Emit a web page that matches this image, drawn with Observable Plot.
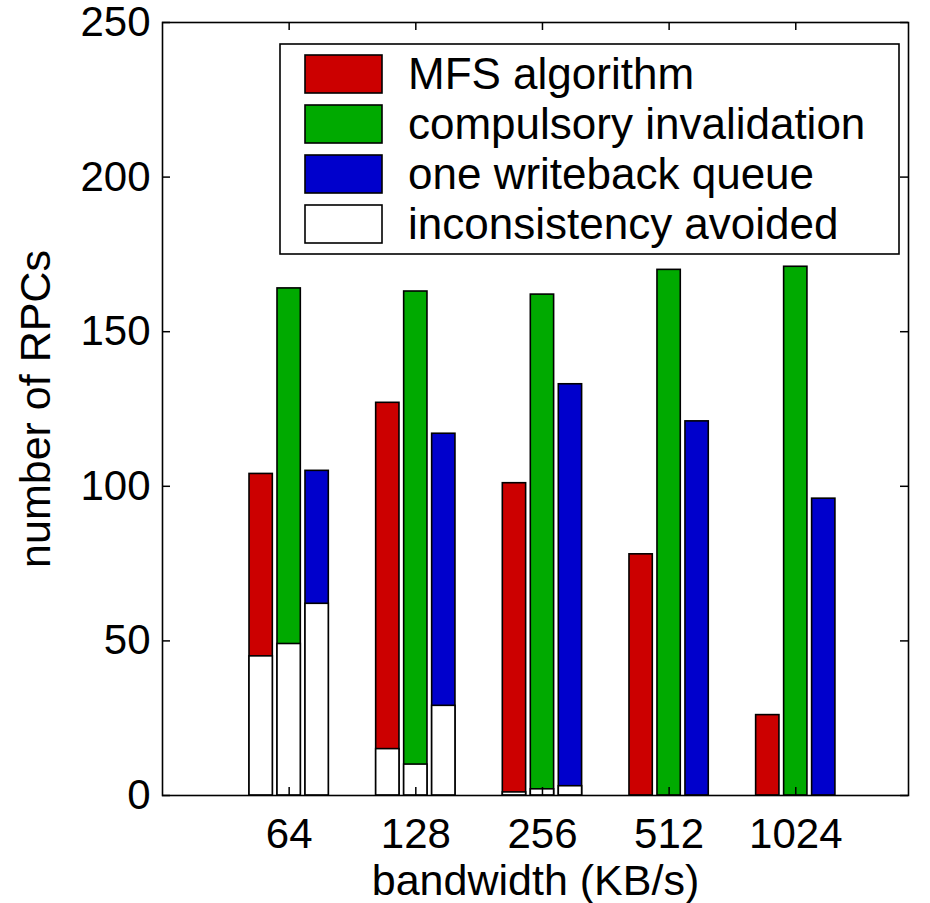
<!DOCTYPE html>
<html>
<head>
<meta charset="utf-8">
<script src="https://cdn.jsdelivr.net/npm/d3@7"></script>
<script src="https://cdn.jsdelivr.net/npm/@observablehq/plot@0.6"></script>
<style>
  html, body { margin: 0; padding: 0; background: #fff; }
  #chart { width: 930px; height: 903px; overflow: hidden; }
</style>
</head>
<body>
<div id="chart"></div>
<script>
// ---- data ----
const bandwidth = ["64", "128", "256", "512", "1024"];
const seriesNames = ["MFS algorithm", "compulsory invalidation", "one writeback queue"];
const avoidedName = "inconsistency avoided";
const seriesColors = ["#cc0000", "#00aa00", "#0000cc"];
const mfsTotal = [104, 127, 101, 78, 26];
const compulsoryTotal = [164, 163, 162, 170, 171];
const writebackTotal = [105, 117, 133, 121, 96];
const mfsAvoided = [45, 15, 1, 0, 0];
const compulsoryAvoided = [49, 10, 2, 0, 0];
const writebackAvoided = [62, 29, 3, 0, 0];
const yTicks = [0, 50, 100, 150, 200, 250];
const xTickIndex = [1, 2, 3, 4, 5];
const xLabel = "bandwidth (KB/s)";
const yLabel = "number of RPCs";

// ---- table built from arrays ----
const totals = [mfsTotal, compulsoryTotal, writebackTotal];
const avoided = [mfsAvoided, compulsoryAvoided, writebackAvoided];
const rows = [];
bandwidth.forEach((b, i) => {
  seriesNames.forEach((s, k) => {
    rows.push({group: i + 1, k, series: s, total: totals[k][i], avoided: avoided[k][i], color: seriesColors[k]});
  });
});

// layout constants
const W = 930, H = 903;
const mL = 162, mR = 22, mT = 22, mB = 108;
const frameW = W - mL - mR, frameH = H - mT - mB;
const TICK = 8;
const step = 0.221, half = 0.092;
const xpos = d => d.group + (d.k - 1) * step;
const FONT = "'Liberation Sans', Arial, Helvetica, sans-serif";

const plot = Plot.plot({
  width: W,
  height: H,
  marginLeft: mL, marginRight: mR, marginTop: mT, marginBottom: mB,
  style: {fontFamily: FONT, fontSize: "42px", background: "#fff", color: "#000"},
  x: {type: "linear", domain: [0, 5.89]},
  y: {domain: [0, 250]},
  color: {type: "identity"},
  marks: [
    Plot.rect(rows, {x1: d => xpos(d) - half, x2: d => xpos(d) + half, y1: 0, y2: "total", fill: "color", stroke: "#000", strokeWidth: 1.6}),
    Plot.rect(rows.filter(d => d.avoided > 0), {x1: d => xpos(d) - half, x2: d => xpos(d) + half, y1: 0, y2: "avoided", fill: "#fff", stroke: "#000", strokeWidth: 1.6}),
    Plot.frame({stroke: "#000", strokeWidth: 1.6}),
    // inward ticks on all four sides
    Plot.tickY(yTicks, {y: d => d, insetRight: frameW - TICK, stroke: "#000", strokeWidth: 1.5}),
    Plot.tickY(yTicks, {y: d => d, insetLeft: frameW - TICK, stroke: "#000", strokeWidth: 1.5}),
    Plot.tickX(xTickIndex, {x: d => d, insetTop: frameH - TICK, stroke: "#000", strokeWidth: 1.5}),
    Plot.tickX(xTickIndex, {x: d => d, insetBottom: frameH - TICK, stroke: "#000", strokeWidth: 1.5}),
    Plot.axisY(yTicks, {tickSize: 0, tickPadding: 12, label: null, fontSize: 42}),
    Plot.axisX(xTickIndex, {tickSize: 0, tickPadding: 23, label: null, fontSize: 42, tickFormat: i => bandwidth[i - 1]}),
    Plot.text([xLabel], {frameAnchor: "bottom", text: d => d, dy: 86, lineAnchor: "middle", textAnchor: "middle", fontSize: 43}),
    Plot.text([yLabel], {frameAnchor: "left", text: d => d, rotate: -90, dx: -126, lineAnchor: "middle", textAnchor: "middle", fontSize: 43})
  ]
});

document.getElementById("chart").appendChild(plot);

// ---- legend (inside the axes, upper right) ----
const svg = d3.select(plot);
const legendItems = seriesNames.map((s, k) => ({label: s, color: seriesColors[k]}))
  .concat([{label: avoidedName, color: "#fff"}]);
const lg = svg.append("g").attr("class", "legend");
lg.append("rect")
  .attr("x", 280).attr("y", 44).attr("width", 619).attr("height", 210)
  .attr("fill", "#fff").attr("stroke", "#000").attr("stroke-width", 1.6);
const item = lg.selectAll("g.item").data(legendItems).join("g")
  .attr("class", "item")
  .attr("transform", (d, i) => `translate(0, ${i * 50})`);
item.append("rect")
  .attr("x", 305).attr("y", 55).attr("width", 77).attr("height", 38)
  .attr("fill", d => d.color).attr("stroke", "#000").attr("stroke-width", 1.6);
item.append("text")
  .attr("x", 408).attr("y", 74).attr("dy", "0.35em")
  .attr("text-anchor", "start")
  .attr("font-size", 44)
  .attr("font-family", FONT)
  .attr("fill", "#000")
  .text(d => d.label);
</script>
</body>
</html>
